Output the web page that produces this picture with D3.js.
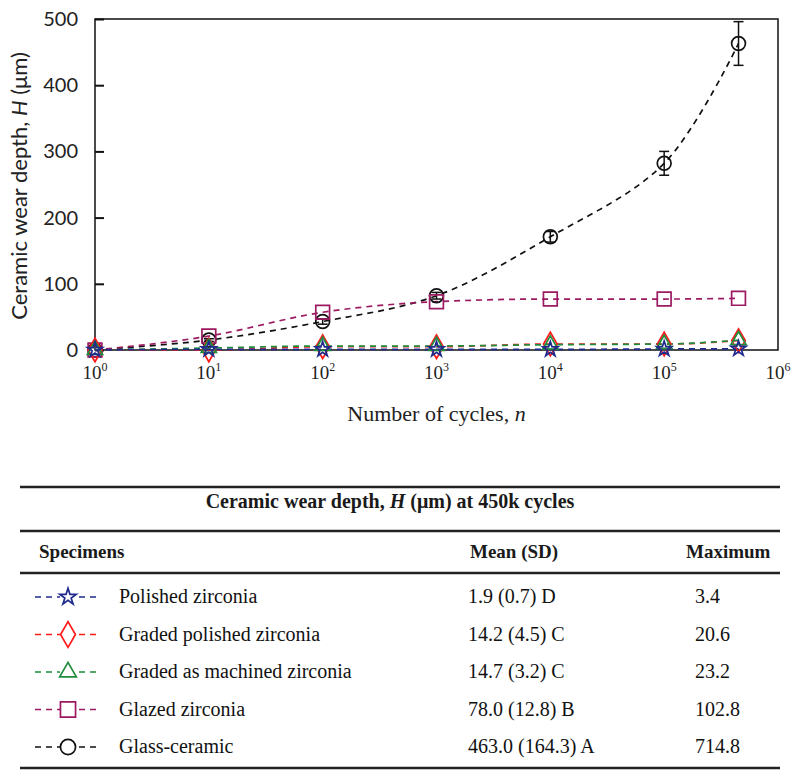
<!DOCTYPE html>
<html>
<head>
<meta charset="utf-8">
<script src="https://cdn.jsdelivr.net/npm/d3@7"></script>
<style>
  html, body { margin: 0; padding: 0; background: #fff; }
  svg { display: block; }
</style>
</head>
<body>
<svg id="chart" width="800" height="777"></svg>
<script>
// ---------------- DATA ----------------
const cycles = [1, 10, 100, 1000, 10000, 100000, 450000];
const seriesNames = ["Polished zirconia", "Graded polished zirconia", "Graded as machined zirconia", "Glazed zirconia", "Glass-ceramic"];
const polished      = [0, 1, 1, 1, 1, 1.5, 1.9];
const gradedPolished = [0, 0, 5, 5, 9, 9, 14.2];
const gradedMachined = [0, 3, 6, 6, 8, 9, 14.7];
const glazed        = [0, 21, 57, 73, 77, 77, 78];
const glassCeramic  = [0, 15, 43, 82, 171, 282, 463];
const glassErr      = [0, 2, 4, 5, 8, 18, 33];
const yTicks = [0, 100, 200, 300, 400, 500];
const xTickExps = [0, 1, 2, 3, 4, 5, 6];
const meanSD = ["1.9 (0.7) D", "14.2 (4.5) C", "14.7 (3.2) C", "78.0 (12.8) B", "463.0 (164.3) A"];
const maximum = ["3.4", "20.6", "23.2", "102.8", "714.8"];

const colors = ["#1f2a8c", "#ff1a1a", "#1e8c3c", "#9c1a62", "#111111"];
const symbolTypes = [d3.symbolStar, d3.symbolDiamond, d3.symbolTriangle, d3.symbolSquare, d3.symbolCircle];
const symbolSizes = [70, 160, 100, 190, 150];
const values = [polished, gradedPolished, gradedMachined, glazed, glassCeramic];

// ---------------- LAYOUT ----------------
const svg = d3.select("#chart");
const pLeft = 95, pRight = 778, pTop = 19, pBottom = 350;
const x = d3.scaleLog().domain([1, 1e6]).range([pLeft, pRight]);
const y = d3.scaleLinear().domain([0, 500]).range([pBottom, pTop]);

const serif = "'Liberation Serif', 'Times New Roman', serif";
const sans = "Lato, 'Open Sans', sans-serif";

// frame
svg.append("rect").attr("x", pLeft).attr("y", pTop).attr("width", pRight - pLeft).attr("height", pBottom - pTop)
  .attr("fill", "none").attr("stroke", "#111").attr("stroke-width", 1.5);

// y axis
const yAxis = d3.axisLeft(y).tickValues(yTicks).tickSizeInner(-9).tickSizeOuter(0).tickPadding(17);
const gy = svg.append("g").attr("transform", `translate(${pLeft},0)`).call(yAxis);
gy.select(".domain").remove();
gy.selectAll(".tick line").attr("stroke", "#111").attr("stroke-width", 2);
gy.selectAll(".tick text").attr("font-family", sans).attr("font-size", 20).attr("fill", "#222");

// x axis labels (10^n)
const gx = svg.append("g");
xTickExps.forEach(e => {
  const t = gx.append("text").attr("x", x(Math.pow(10, e))).attr("y", 379)
    .attr("text-anchor", "middle").attr("font-family", serif).attr("font-size", 19).attr("fill", "#222");
  t.append("tspan").text("10");
  t.append("tspan").attr("dy", -8).attr("font-size", 12).text(String(e));
});

// axis titles
const yt = svg.append("text").attr("transform", "translate(27,186) rotate(-90)")
  .attr("text-anchor", "middle").attr("font-family", sans).attr("font-size", 22).attr("fill", "#222");
yt.append("tspan").text("Ceramic wear depth, ");
yt.append("tspan").attr("font-style", "italic").text("H");
yt.append("tspan").text(" (μm)");

const xt = svg.append("text").attr("x", (pLeft + pRight) / 2).attr("y", 421)
  .attr("text-anchor", "middle").attr("font-family", serif).attr("font-size", 22).attr("fill", "#222");
xt.append("tspan").text("Number of cycles, ");
xt.append("tspan").attr("font-style", "italic").text("n");

// lines
const lineMono = d3.line().x((d, i) => x(cycles[i])).y(d => y(d)).curve(d3.curveMonotoneX);
const lineSmooth = d3.line().x((d, i) => x(cycles[i])).y(d => y(d)).curve(d3.curveCatmullRom.alpha(0.5));
const drawOrder = [4, 3, 1, 2, 0];
drawOrder.forEach(s => {
  svg.append("path").datum(values[s]).attr("d", s === 4 ? lineSmooth : lineMono).attr("fill", "none")
    .attr("stroke", colors[s]).attr("stroke-width", 1.7).attr("stroke-dasharray", "6,5");
});

// error bars for glass-ceramic
const eb = svg.append("g").attr("stroke", "#111").attr("stroke-width", 1.5);
glassCeramic.forEach((v, i) => {
  if (glassErr[i] <= 0) return;
  const cx = x(cycles[i]);
  eb.append("line").attr("x1", cx).attr("x2", cx).attr("y1", y(v - glassErr[i])).attr("y2", y(v + glassErr[i]));
  eb.append("line").attr("x1", cx - 5).attr("x2", cx + 5).attr("y1", y(v - glassErr[i])).attr("y2", y(v - glassErr[i]));
  eb.append("line").attr("x1", cx - 5).attr("x2", cx + 5).attr("y1", y(v + glassErr[i])).attr("y2", y(v + glassErr[i]));
});

// markers
drawOrder.forEach(s => {
  const sym = d3.symbol().type(symbolTypes[s]).size(symbolSizes[s]);
  svg.append("g").selectAll("path").data(values[s]).join("path")
    .attr("transform", (d, i) => `translate(${x(cycles[i])},${y(d)})`)
    .attr("d", sym).attr("fill", "none").attr("stroke", colors[s]).attr("stroke-width", 1.7);
});

// ---------------- TABLE ----------------
const tl = 20, tr = 780;
const hl = (yy, w) => svg.append("line").attr("x1", tl).attr("x2", tr).attr("y1", yy).attr("y2", yy)
  .attr("stroke", "#222").attr("stroke-width", w);
hl(487, 2.5); hl(531, 2.5); hl(573, 2.5); hl(768, 2.5);

const th = svg.append("text").attr("x", 390).attr("y", 508).attr("text-anchor", "middle")
  .attr("font-family", serif).attr("font-size", 20).attr("font-weight", "bold").attr("fill", "#1a1a1a");
th.append("tspan").text("Ceramic wear depth, ");
th.append("tspan").attr("font-style", "italic").text("H");
th.append("tspan").text(" (μm) at 450k cycles");

const headers = [["Specimens", 39], ["Mean (SD)", 470], ["Maximum", 686]];
headers.forEach(([t, hx]) => svg.append("text").attr("x", hx).attr("y", 558)
  .attr("font-family", serif).attr("font-size", 19).attr("font-weight", "bold").attr("fill", "#1a1a1a").text(t));

const rowY = d3.scalePoint().domain(seriesNames).range([597, 747]);
seriesNames.forEach((name, s) => {
  const ry = rowY(name);
  const g = svg.append("g");
  g.append("line").attr("x1", 35).attr("x2", 101).attr("y1", ry).attr("y2", ry)
    .attr("stroke", colors[s]).attr("stroke-width", 1.7).attr("stroke-dasharray", "6,5");
  g.append("rect").attr("x", 60).attr("y", ry - 9).attr("width", 16).attr("height", 18).attr("fill", "#fff");
  g.append("path").attr("transform", `translate(68,${ry})`)
    .attr("d", d3.symbol().type(symbolTypes[s]).size(symbolSizes[s] * 1.2)())
    .attr("fill", "none").attr("stroke", colors[s]).attr("stroke-width", 1.7);
  g.append("text").attr("x", 119).attr("y", ry + 6).attr("font-family", serif).attr("font-size", 20).attr("fill", "#111").text(name);
  g.append("text").attr("x", 468).attr("y", ry + 6).attr("font-family", serif).attr("font-size", 20).attr("fill", "#111").text(meanSD[s]);
  g.append("text").attr("x", 695).attr("y", ry + 6).attr("font-family", serif).attr("font-size", 20).attr("fill", "#111").text(maximum[s]);
});
</script>
</body>
</html>
